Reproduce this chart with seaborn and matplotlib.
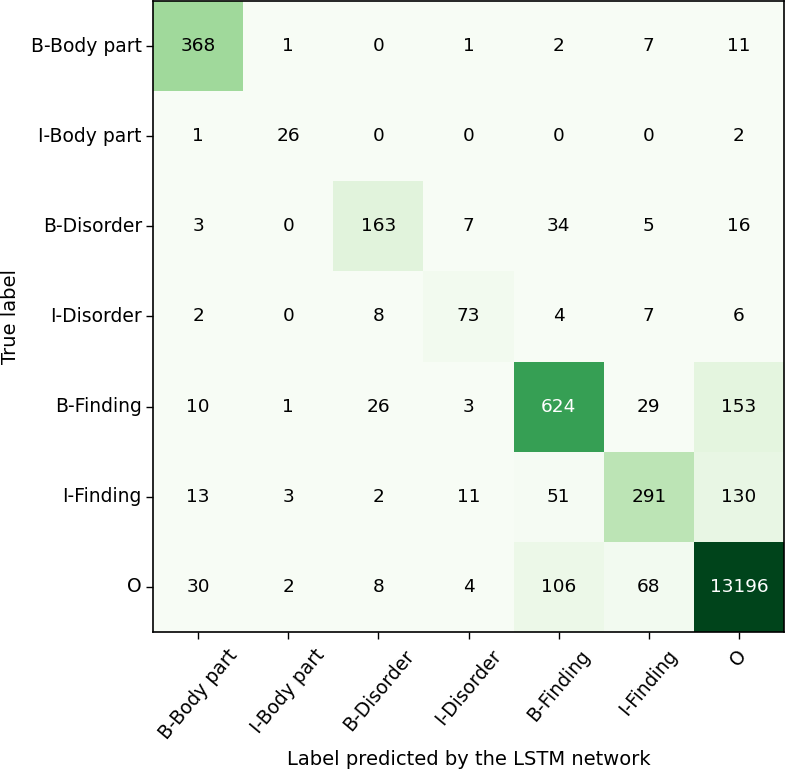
import numpy as np
import pandas as pd
import matplotlib
matplotlib.use("Agg")
import matplotlib.pyplot as plt
import seaborn as sns

labels = ["B-Body part", "I-Body part", "B-Disorder", "I-Disorder",
          "B-Finding", "I-Finding", "O"]

row_b_body = [368, 1, 0, 1, 2, 7, 11]
row_i_body = [1, 26, 0, 0, 0, 0, 2]
row_b_dis = [3, 0, 163, 7, 34, 5, 16]
row_i_dis = [2, 0, 8, 73, 4, 7, 6]
row_b_find = [10, 1, 26, 3, 624, 29, 153]
row_i_find = [13, 3, 2, 11, 51, 291, 130]
row_o = [30, 2, 8, 4, 106, 68, 13196]

cm = pd.DataFrame([row_b_body, row_i_body, row_b_dis, row_i_dis,
                   row_b_find, row_i_find, row_o],
                  index=labels, columns=labels)

vmin, vmax = 40, 910

fig = plt.figure(figsize=(7.86, 7.76), dpi=100)
ax = fig.add_axes([0.1947, 0.1856, 0.8028, 0.8131])

sns.heatmap(cm, cmap="Greens", vmin=vmin, vmax=vmax, cbar=False,
            annot=False, ax=ax)

# annotations, white on dark cells
vals = cm.values
for i in range(vals.shape[0]):
    for j in range(vals.shape[1]):
        level = (vals[i, j] - vmin) / (vmax - vmin)
        color = "white" if level > 0.5 else "black"
        ax.text(j + 0.5, i + 0.5, str(vals[i, j]), ha="center", va="center",
                fontsize=13.3, color=color)

for s in ax.spines.values():
    s.set_visible(True)
    s.set_linewidth(1.2)
    s.set_color("black")

ax.tick_params(axis="both", length=5, width=1, labelsize=13.5)
ax.tick_params(axis="x", pad=5)
ax.tick_params(axis="y", pad=3)
ax.set_xticklabels(labels, rotation=50, ha="center")
ax.set_yticklabels(labels, rotation=0)
ax.set_xlabel("Label predicted by the LSTM network", fontsize=14)
ax.set_ylabel("True label", fontsize=14)
ax.xaxis.set_label_coords(0.5, -0.187)
ax.yaxis.set_label_coords(-0.211, 0.5)

fig.savefig("out.png", dpi=100)
